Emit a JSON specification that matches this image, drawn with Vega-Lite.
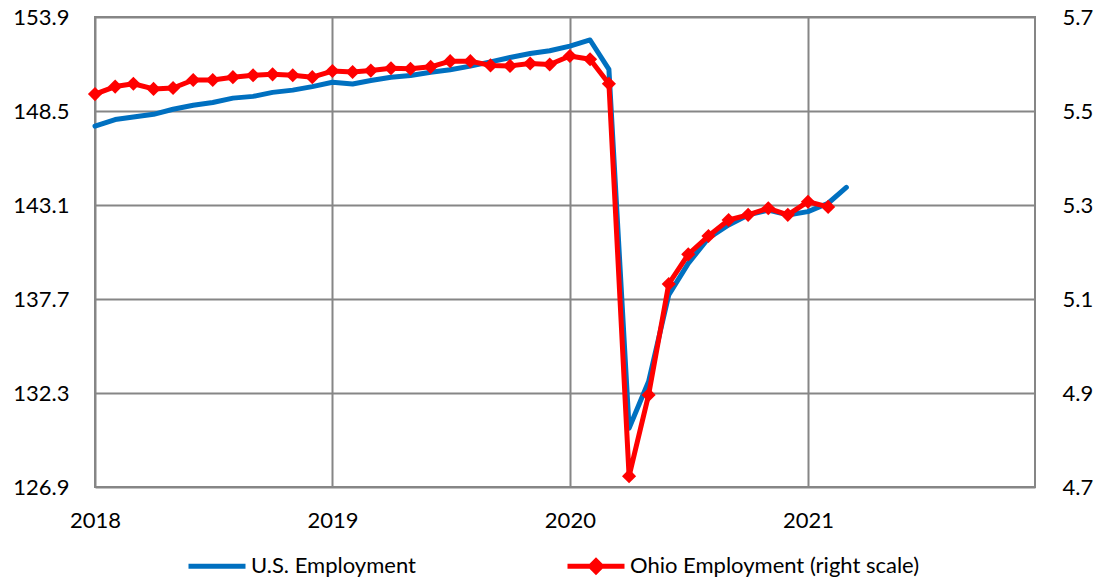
{
  "$schema": "https://vega.github.io/schema/vega-lite/v6.json",
  "width": 940,
  "height": 470,
  "autosize": {"type": "none"},
  "padding": {"left": 95, "top": 17, "right": 65, "bottom": 95},
  "config": {
    "view": {"stroke": "#868686", "strokeWidth": 2},
    "font": "Lato",
    "axis": {
      "labelFont": "Lato",
      "labelFontSize": 22,
      "labelColor": "#000000",
      "ticks": false,
      "tickSize": 0,
      "domain": false,
      "gridColor": "#868686",
      "gridWidth": 2,
      "gridOpacity": 1,
      "title": null,
      "labelOverlap": false,
      "labelFlush": false,
      "labelBound": false
    }
  },
  "data": {
    "values": [
      {"date": "2018-01-01", "us": 147.63, "ohio": 5.536},
      {"date": "2018-02-01", "us": 148.01, "ohio": 5.552},
      {"date": "2018-03-01", "us": 148.15, "ohio": 5.558},
      {"date": "2018-04-01", "us": 148.31, "ohio": 5.547},
      {"date": "2018-05-01", "us": 148.60, "ohio": 5.549},
      {"date": "2018-06-01", "us": 148.83, "ohio": 5.566},
      {"date": "2018-07-01", "us": 148.99, "ohio": 5.566},
      {"date": "2018-08-01", "us": 149.24, "ohio": 5.572},
      {"date": "2018-09-01", "us": 149.34, "ohio": 5.576},
      {"date": "2018-10-01", "us": 149.57, "ohio": 5.578},
      {"date": "2018-11-01", "us": 149.70, "ohio": 5.576},
      {"date": "2018-12-01", "us": 149.90, "ohio": 5.572},
      {"date": "2019-01-01", "us": 150.15, "ohio": 5.585},
      {"date": "2019-02-01", "us": 150.05, "ohio": 5.583},
      {"date": "2019-03-01", "us": 150.25, "ohio": 5.586},
      {"date": "2019-04-01", "us": 150.44, "ohio": 5.591},
      {"date": "2019-05-01", "us": 150.54, "ohio": 5.590},
      {"date": "2019-06-01", "us": 150.73, "ohio": 5.594},
      {"date": "2019-07-01", "us": 150.87, "ohio": 5.606},
      {"date": "2019-08-01", "us": 151.08, "ohio": 5.606},
      {"date": "2019-09-01", "us": 151.32, "ohio": 5.597},
      {"date": "2019-10-01", "us": 151.57, "ohio": 5.596},
      {"date": "2019-11-01", "us": 151.80, "ohio": 5.601},
      {"date": "2019-12-01", "us": 151.96, "ohio": 5.599},
      {"date": "2020-01-01", "us": 152.23, "ohio": 5.617},
      {"date": "2020-02-01", "us": 152.58, "ohio": 5.610},
      {"date": "2020-03-01", "us": 150.89, "ohio": 5.558},
      {"date": "2020-04-01", "us": 130.28, "ohio": 4.723},
      {"date": "2020-05-01", "us": 132.96, "ohio": 4.896},
      {"date": "2020-06-01", "us": 137.94, "ohio": 5.132},
      {"date": "2020-07-01", "us": 139.75, "ohio": 5.195},
      {"date": "2020-08-01", "us": 141.19, "ohio": 5.234},
      {"date": "2020-09-01", "us": 141.95, "ohio": 5.268},
      {"date": "2020-10-01", "us": 142.53, "ohio": 5.279},
      {"date": "2020-11-01", "us": 142.81, "ohio": 5.293},
      {"date": "2020-12-01", "us": 142.53, "ohio": 5.279},
      {"date": "2021-01-01", "us": 142.72, "ohio": 5.307},
      {"date": "2021-02-01", "us": 143.20, "ohio": 5.296},
      {"date": "2021-03-01", "us": 144.11, "ohio": null}
    ]
  },
  "encoding": {
    "x": {
      "field": "date",
      "type": "temporal",
      "scale": {
        "type": "utc",
        "domain": [
          {"year": 2018, "month": 1, "date": 1, "utc": true},
          {"year": 2021, "month": 12, "date": 16, "utc": true}
        ],
        "nice": false
      },
      "axis": {
        "values": [
          {"year": 2018, "month": 1, "date": 1, "utc": true},
          {"year": 2019, "month": 1, "date": 1, "utc": true},
          {"year": 2020, "month": 1, "date": 1, "utc": true},
          {"year": 2021, "month": 1, "date": 1, "utc": true}
        ],
        "format": "%Y",
        "formatType": "utc",
        "labelPadding": 23,
        "grid": true
      }
    }
  },
  "layer": [
    {
      "mark": {"type": "line", "strokeWidth": 5, "strokeJoin": "round", "strokeCap": "round"},
      "encoding": {
        "y": {
          "field": "us",
          "type": "quantitative",
          "scale": {"domain": [126.9, 153.9], "nice": false, "zero": false},
          "axis": {
            "orient": "left",
            "values": [126.9, 132.3, 137.7, 143.1, 148.5, 153.9],
            "format": ".1f",
            "labelPadding": 26,
            "grid": true
          }
        },
        "color": {
          "datum": "U.S. Employment",
          "type": "nominal",
          "scale": {
            "domain": ["U.S. Employment", "Ohio Employment (right scale)"],
            "range": ["#0070C0", "#FF0000"]
          },
          "legend": {
            "title": null,
            "orient": "none",
            "legendX": 91,
            "legendY": 518,
            "direction": "horizontal",
            "columns": 2,
            "columnPadding": 141,
            "padding": 0,
            "symbolSize": 3249,
            "symbolStrokeWidth": 5,
            "symbolOpacity": 1,
            "labelFont": "Lato",
            "labelFontSize": 22,
            "labelColor": "#000000",
            "labelOffset": 3,
            "labelLimit": 400,
            "encode": {
              "symbols": {
                "update": {
                  "shape": {"signal": "datum.value === 'U.S. Employment' ? 'M-1,0H1M0,-0.19M0,0.19' : 'M-1,0H1M-0.19,0L0,-0.19L0.19,0L0,0.19Z'"},
                  "fill": {"signal": "datum.value === 'U.S. Employment' ? 'transparent' : '#FF0000'"},
                  "strokeWidth": {"value": 5}
                }
              }
            }
          }
        }
      }
    },
    {
      "encoding": {
        "y": {
          "field": "ohio",
          "type": "quantitative",
          "scale": {"domain": [4.7, 5.7], "nice": false, "zero": false},
          "axis": {
            "orient": "right",
            "values": [4.7, 4.9, 5.1, 5.3, 5.5, 5.7],
            "format": ".1f",
            "labelPadding": 27,
            "grid": false
          }
        }
      },
      "layer": [
        {
          "mark": {"type": "line", "strokeWidth": 5, "strokeJoin": "round", "strokeCap": "round"},
          "encoding": {
            "color": {"datum": "Ohio Employment (right scale)", "type": "nominal"}
          }
        },
        {
          "mark": {"type": "point", "shape": "diamond", "filled": true, "size": 200, "color": "#FF0000", "opacity": 1}
        }
      ]
    }
  ],
  "resolve": {"scale": {"y": "independent"}}
}
